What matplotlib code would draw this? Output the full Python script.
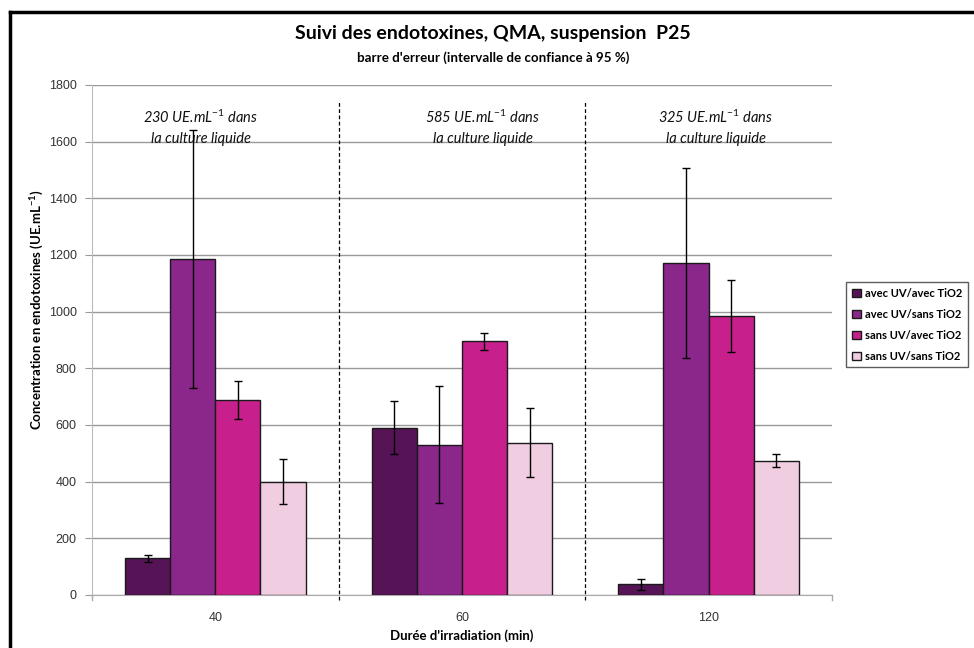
import matplotlib
matplotlib.use('Agg')
import matplotlib.pyplot as plt
from matplotlib.lines import Line2D
import numpy as np

# Data
durations = ['40', '60', '120']
series = ['avec UV/avec TiO2', 'avec UV/sans TiO2', 'sans UV/avec TiO2', 'sans UV/sans TiO2']
values = [
    [130, 590, 38],      # avec UV/avec TiO2
    [1185, 530, 1172],   # avec UV/sans TiO2
    [688, 895, 985],     # sans UV/avec TiO2
    [400, 537, 473],     # sans UV/sans TiO2
]
errors = [
    [12, 93, 19],
    [455, 207, 335],
    [67, 30, 128],
    [79, 122, 23],
]
culture_notes = ['230', '585', '325']
colors = ['#561456', '#8B268B', '#C71F8C', '#F0CDE1']

plt.rcParams['font.family'] = ['Lato', 'DejaVu Sans']
plt.rcParams['mathtext.fontset'] = 'custom'
plt.rcParams['mathtext.rm'] = 'Lato'
plt.rcParams['mathtext.it'] = 'Lato:italic'
plt.rcParams['mathtext.bf'] = 'Lato:bold'

fig = plt.figure(figsize=(9.74, 6.48), dpi=100)
ax = fig.add_axes([0.0945, 0.0818, 0.7595, 0.7872])

x = np.arange(len(durations))
bw = 0.183
for i, (name, vals, errs, c) in enumerate(zip(series, values, errors, colors)):
    pos = x + (i - 1.5) * bw
    ax.bar(pos, vals, width=bw, color=c, edgecolor='#1a1a1a', linewidth=1.0,
           label=name, zorder=3)
    ax.errorbar(pos, vals, yerr=errs, fmt='none', ecolor='black', elinewidth=1,
                capsize=3, capthick=1, zorder=4)

ax.set_xlim(-0.5, 2.5)
ax.set_ylim(0, 1800)
ax.set_yticks(np.arange(0, 1801, 200))
ax.set_xticks(x)
ax.set_xticklabels(durations)
ax.tick_params(axis='x', length=0, pad=12, labelsize=9, labelcolor='#333333')
ax.tick_params(axis='y', length=5, color='#999999', labelsize=9, labelcolor='#333333', pad=6)
for lab in ax.get_xticklabels() + ax.get_yticklabels():
    lab.set_fontfamily(['Liberation Sans', 'DejaVu Sans'])

ax.grid(axis='y', color='#999999', linewidth=1, zorder=0)
ax.set_axisbelow(True)
for s in ['top', 'right']:
    ax.spines[s].set_visible(False)
ax.spines['left'].set_color('#bbbbbb')
ax.spines['bottom'].set_color('#aaaaaa')

# group separators (dashed) and boundary ticks
for b in [0.5, 1.5]:
    ax.plot([b, b], [-0.01, 0.97], transform=ax.get_xaxis_transform(), color='black',
            linestyle=(0, (3, 2)), linewidth=0.9, clip_on=False, zorder=2)
for b in [-0.5, 2.5]:
    ax.plot([b, b], [-0.01, 0], transform=ax.get_xaxis_transform(), color='#aaaaaa',
            linewidth=1, clip_on=False)

# text boxes were placed by hand in the original, slightly off the group centres
note_shift = [-0.06, 0.085, 0.03]
for xi, note, dx in zip(x, culture_notes, note_shift):
    ax.text(xi + dx, 1650, note + r' UE.mL$^{-1}$ dans' + '\nla culture liquide', ha='center',
            va='center', fontsize=10.5, style='italic', linespacing=1.55, color='#111111')

ax.set_ylabel(r'Concentration en endotoxines (UE.mL$^{\mathbf{-1}}$)', fontsize=9.5,
              fontweight='bold', labelpad=4)
ax.yaxis.set_label_coords(-0.062, 0.56)
ax.set_xlabel("Durée d'irradiation (min)", fontsize=9.5, fontweight='bold', labelpad=4)

fig.text(0.506, 0.949, 'Suivi des endotoxines, QMA, suspension  P25', ha='center', va='center',
         fontsize=14, fontweight='bold')
fig.text(0.506, 0.911, "barre d'erreur (intervalle de confiance à 95 %)", ha='center',
         va='center', fontsize=9.6, fontweight='bold')

leg = ax.legend(loc='center left', bbox_to_anchor=(1.012, 0.53), fontsize=8, frameon=True,
                fancybox=False, edgecolor='#333333', handlelength=0.8, handleheight=0.8,
                handletextpad=0.4, borderpad=0.5, labelspacing=0.9)
for t in leg.get_texts():
    t.set_fontweight('bold')
leg.get_frame().set_linewidth(1)

# outer frame of the chart (left and top edges visible)
fig.add_artist(Line2D([0.0105, 0.0105], [0, 0.981], transform=fig.transFigure,
                      color='black', linewidth=2.5))
fig.add_artist(Line2D([0.0105, 1.0], [0.981, 0.981], transform=fig.transFigure,
                      color='black', linewidth=2.5))

fig.savefig('out.png', dpi=100)
